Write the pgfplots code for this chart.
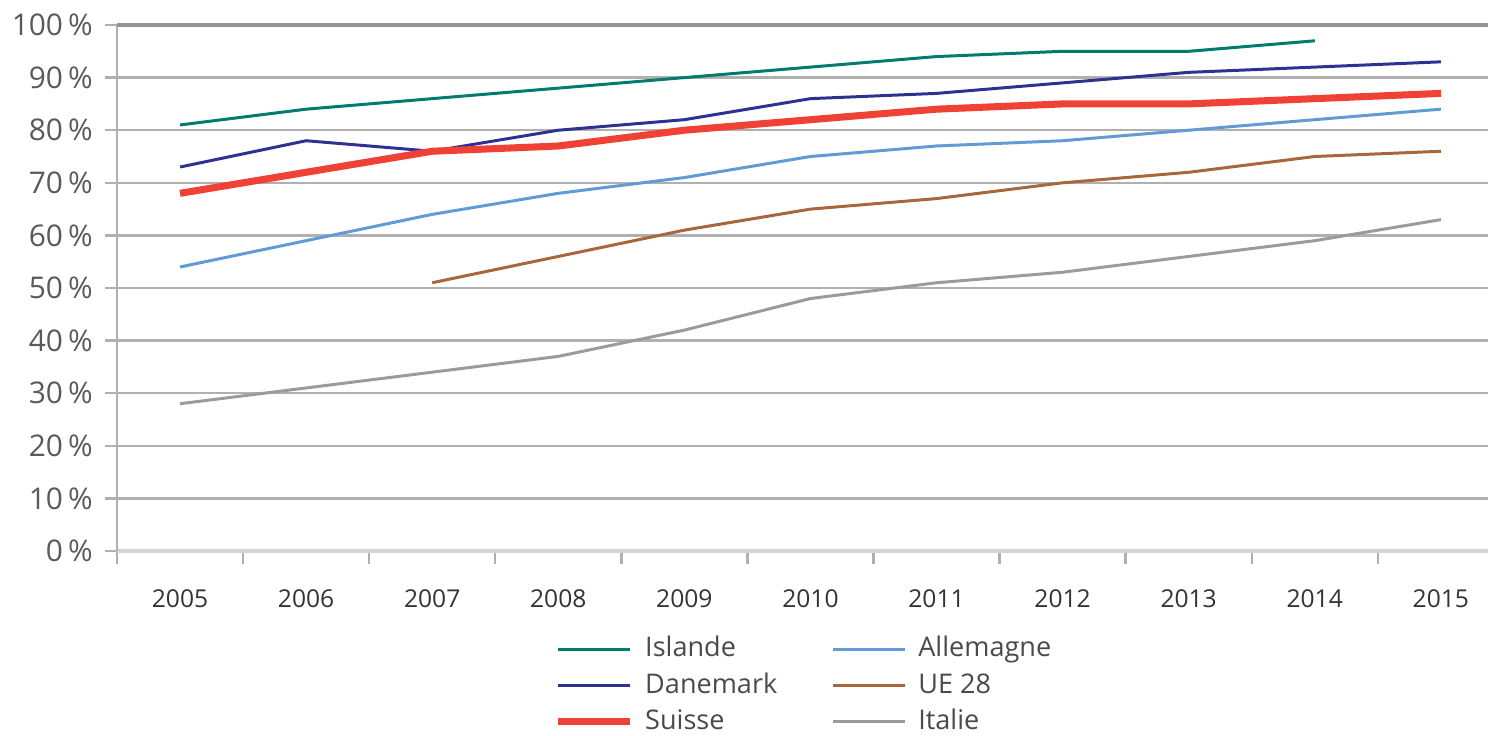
\documentclass[border=0pt]{standalone}
\usepackage{pgfplots}
\pgfplotsset{compat=1.18}
\usepackage{fontspec}
\setmainfont{Open Sans}
\definecolor{cIsl}{HTML}{007B6E}
\definecolor{cDan}{HTML}{2E3192}
\definecolor{cSui}{HTML}{EF4136}
\definecolor{cAll}{HTML}{619BD6}
\definecolor{cUE}{HTML}{A9663A}
\definecolor{cIta}{HTML}{9B9B9B}
\definecolor{cGrid}{HTML}{B0B0B0}
\definecolor{cTop}{HTML}{949494}
\definecolor{cBase}{HTML}{D4D4D4}
\definecolor{cYlab}{HTML}{5A5A5A}
\definecolor{cXlab}{HTML}{333333}
\definecolor{cLeg}{HTML}{4A4A4A}
\begin{document}
\begin{tikzpicture}
\useasboundingbox (0,0) rectangle (148.8mm,73.5mm);
\begin{axis}[
  at={(11.7mm,18.4mm)}, anchor=south west,
  scale only axis, width=138.7mm, height=52.6mm,
  xmin=2004.5, xmax=2015.5, ymin=0, ymax=100,
  axis x line*=bottom, axis y line*=left,
  x axis line style={draw=cBase, line width=0.9pt, -},
  y axis line style={draw=cGrid, line width=0.7pt, -},
  xtick={2005,...,2015},
  xticklabels={2005,2006,2007,2008,2009,2010,2011,2012,2013,2014,2015},
  minor xtick={2004.5,2005.5,...,2014.5},
  every major x tick/.append style={draw=none},
  every minor x tick/.append style={draw=cGrid, line width=0.7pt},
  minor tick length=1.3mm,
  major tick length=1.2mm,
  tick align=outside,
  ytick={0,10,...,100},
  yticklabels={0\,\%,10\,\%,20\,\%,30\,\%,40\,\%,50\,\%,60\,\%,70\,\%,80\,\%,90\,\%,100\,\%},
  every major y tick/.append style={draw=cGrid, line width=0.7pt},
  ymajorgrids,
  major grid style={draw=cGrid, line width=0.7pt},
  xticklabel style={font=\fontsize{7}{8}\selectfont, text=cXlab, yshift=-1.4mm},
  yticklabel style={font=\fontsize{8.5}{10}\selectfont, text=cYlab},
  /pgf/number format/assume math mode=true,
  legend columns=2,
  legend cell align=left,
  legend image code/.code={\draw[#1] (0mm,0mm) -- (7.2mm,0mm);},
  legend style={at={(0.315,-0.16)}, anchor=north west, draw=none, fill=none,
    inner sep=0pt, font=\fontsize{7.7}{9}\selectfont, text=cLeg,
    nodes={inner sep=0pt, text height=6pt, text depth=1.7pt},
    row sep=2.6pt,
    /tikz/column 1/.style={column sep=3.3pt},
    /tikz/column 2/.style={column sep=15.5pt},
    /tikz/column 3/.style={column sep=3.3pt}},
  clip=false,
]
\draw[cTop, line width=1.4pt] (rel axis cs:0,1) -- (rel axis cs:1,1);
\addplot[cIsl, line width=0.85pt] coordinates {
 (2005,81) (2006,84) (2007,86) (2008,88) (2009,90) (2010,92) (2011,94) (2012,95) (2013,95) (2014,97)};
\addlegendentry{Islande}
\addplot[cAll, line width=0.85pt] coordinates {
 (2005,54) (2006,59) (2007,64) (2008,68) (2009,71) (2010,75) (2011,77) (2012,78) (2013,80) (2014,82) (2015,84)};
\addlegendentry{Allemagne}
\addplot[cDan, line width=0.85pt] coordinates {
 (2005,73) (2006,78) (2007,76) (2008,80) (2009,82) (2010,86) (2011,87) (2012,89) (2013,91) (2014,92) (2015,93)};
\addlegendentry{Danemark}
\addplot[cUE, line width=0.85pt] coordinates {
 (2007,51) (2008,56) (2009,61) (2010,65) (2011,67) (2012,70) (2013,72) (2014,75) (2015,76)};
\addlegendentry{UE 28}
\addplot[cSui, line width=2pt] coordinates {
 (2005,68) (2006,72) (2007,76) (2008,77) (2009,80) (2010,82) (2011,84) (2012,85) (2013,85) (2014,86) (2015,87)};
\addlegendentry{Suisse}
\addplot[cIta, line width=0.85pt] coordinates {
 (2005,28) (2006,31) (2007,34) (2008,37) (2009,42) (2010,48) (2011,51) (2012,53) (2013,56) (2014,59) (2015,63)};
\addlegendentry{Italie}
\end{axis}
\end{tikzpicture}
\end{document}
